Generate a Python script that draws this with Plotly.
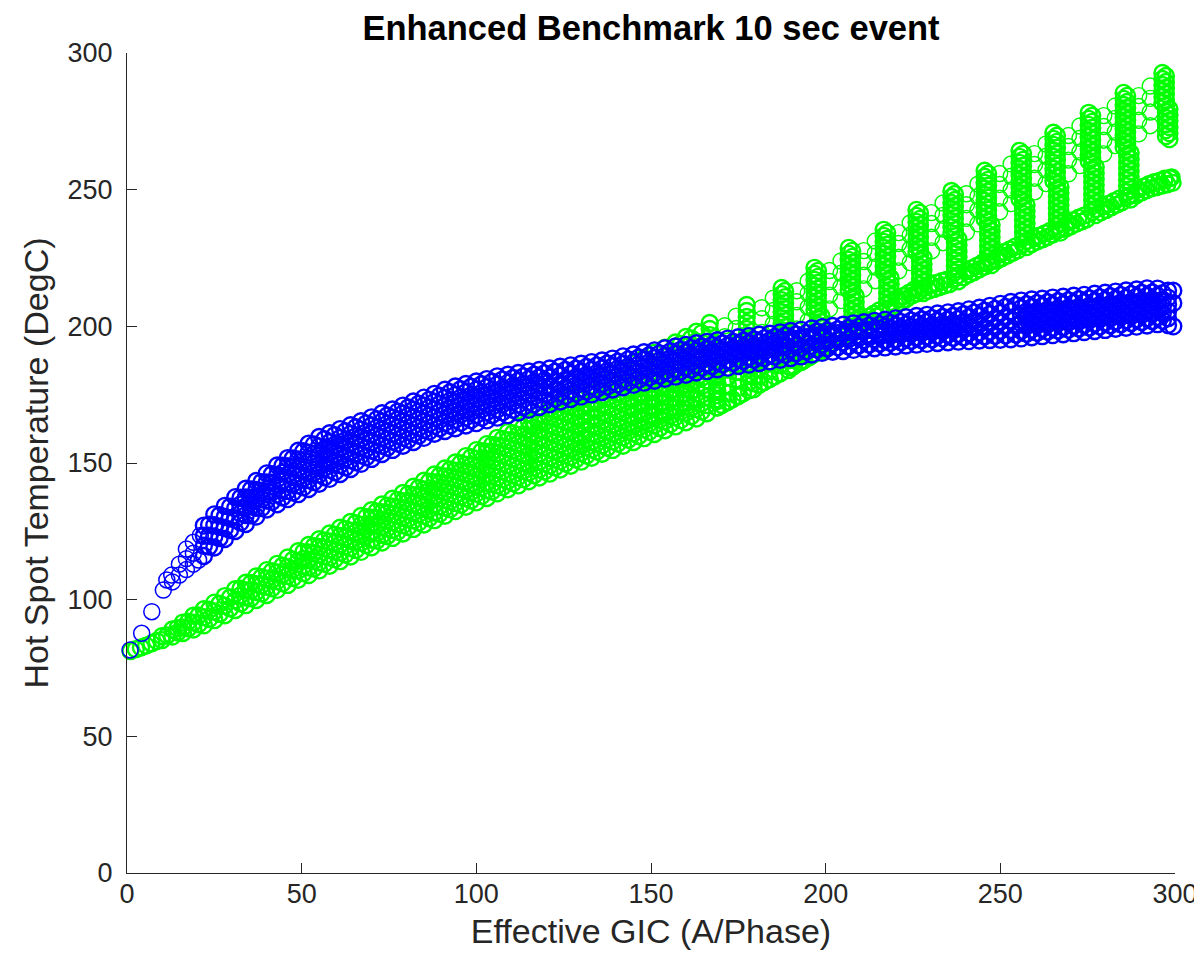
import plotly.graph_objects as go

# ---------------- data (GIC in A/phase, temperature in DegC) ----------------
# Green series: main band, columns of temperatures at given GIC values
green_band = [
    (1, [81.2]), (4, [82.5]), (7, [84.0]), (10, [85.2, 86.6]), (13, [86.5, 89.1]),
    (16, [87.8, 89.8, 91.6]), (19, [89.1, 91.6, 94.1]), (22, [90.6, 93.6, 96.5]),
    (25, [92.5, 95.7, 98.9]), (28, [94.3, 97.8, 101.3]), (31, [96.2, 99.8, 103.8]),
    (34, [98.0, 100.8, 103.5, 106.2]), (37, [99.9, 102.8, 105.7, 108.5]),
    (40, [101.7, 104.7, 107.7, 110.8]), (43, [103.6, 106.8, 110.0, 113.1]),
    (46, [105.4, 108.7, 112.0, 115.4]), (49, [107.3, 110.7, 114.2, 117.7]),
    (52, [109.0, 111.8, 114.5, 117.3, 120.0]), (55, [110.7, 113.6, 116.4, 119.3, 122.1]),
    (58, [112.4, 115.4, 118.3, 121.3, 124.2]), (61, [114.1, 117.2, 120.2, 123.3, 126.3]),
    (64, [115.8, 118.9, 122.1, 125.2, 128.4]), (67, [117.5, 120.8, 124.0, 127.3, 130.6]),
    (70, [119.2, 121.9, 124.6, 127.3, 130.0, 132.7]), (73, [120.9, 123.7, 126.4, 129.2, 132.0, 134.8]),
    (76, [122.6, 125.5, 128.3, 131.2, 134.0, 136.9]), (79, [124.2, 127.2, 130.2, 133.1, 136.0, 139.0]),
    (82, [125.9, 129.0, 132.1, 135.1, 138.2, 141.3]), (85, [127.5, 130.7, 133.9, 137.1, 140.3, 143.5]),
    (88, [129.1, 131.9, 134.7, 137.5, 140.2, 143.0, 145.8]),
    (91, [130.7, 133.6, 136.5, 139.4, 142.2, 145.1, 148.0]),
    (94, [132.4, 135.4, 138.3, 141.3, 144.3, 147.2, 150.2]),
    (97, [134.0, 137.1, 140.2, 143.3, 146.3, 149.4, 152.5]),
    (100, [135.6, 138.8, 142.0, 145.2, 148.3, 151.5, 154.7]),
    (103, [137.2, 140.0, 142.8, 145.7, 148.5, 151.3, 154.1, 156.9]),
    (106, [138.9, 141.8, 144.7, 147.6, 150.5, 153.4, 156.3, 159.2]),
    (109, [140.4, 143.4, 146.3, 149.3, 152.3, 155.3, 158.3, 161.3]),
    (112, [141.8, 144.9, 147.9, 151.0, 154.1, 157.2, 160.3, 163.5]),
    (115, [143.3, 146.5, 149.7, 152.8, 156.0, 159.2, 162.4, 165.6]),
    (118, [144.7, 147.6, 150.5, 153.4, 156.3, 159.1, 162.0, 164.9, 167.8]),
    (121, [146.1, 149.1, 152.0, 155.0, 158.0, 161.0, 163.9, 166.9, 169.9]),
    (124, [147.6, 150.7, 153.7, 156.8, 159.9, 162.9, 166.0, 169.0, 172.1]),
    (127, [149.0, 152.2, 155.3, 158.5, 161.7, 164.8, 168.0, 171.1, 174.3]),
    (130, [150.5, 153.7, 157.0, 160.2, 163.5, 166.7, 169.9, 173.2, 176.4]),
    (133, [151.9, 154.9, 157.8, 160.8, 163.8, 166.7, 169.7, 172.7, 175.6, 178.6]),
    (136, [153.4, 156.4, 159.4, 162.4, 165.4, 168.4, 171.4, 174.4, 177.5, 180.6]),
    (139, [154.8, 157.9, 161.0, 164.1, 167.2, 170.3, 173.4, 176.4, 179.5, 182.6]),
    (142, [156.3, 159.4, 162.6, 165.7, 168.8, 172.0, 175.1, 178.2, 181.4, 184.5]),
    (145, [157.7, 160.9, 164.1, 167.3, 170.5, 173.6, 176.8, 180.0, 183.2, 186.4]),
    (148, [159.1, 162.3, 165.6, 168.8, 172.1, 175.3, 178.6, 181.8, 185.1, 188.3]),
    (151, [160.6, 163.9, 167.2, 170.5, 173.8, 177.1, 180.4, 183.7, 187.0, 190.3]),
    (154, [162.0, 165.4, 168.7, 172.1, 175.4, 178.8, 182.1, 185.5, 188.8, 192.2]),
    (157, [163.4, 166.8, 170.2, 173.6, 177.0, 180.5, 183.9, 187.3, 190.7, 194.1]),
    (160, [164.9, 168.4, 171.8, 175.3, 178.8, 182.2, 185.7, 189.1, 192.6, 196.1]),
    (163, [166.3, 169.8, 173.4, 176.9, 180.4, 183.9, 187.4, 191.0, 194.5, 198.0]),
    (166, [168.2, 171.2, 174.2, 177.2, 180.2, 183.2]), (169, [170.3, 173.3, 176.3, 179.3, 182.3, 185.3]),
    (172, [172.4, 175.4, 178.4, 181.4, 184.4, 187.4]), (175, [174.5, 177.5, 180.5, 183.5, 186.5]),
    (178, [176.6, 179.6, 182.6, 185.6, 188.6]), (181, [178.7, 181.7, 184.7, 187.7, 190.7]),
    (184, [180.7, 183.7, 186.7, 189.7]), (187, [182.8, 185.8, 188.8, 191.8]),
    (190, [184.9, 187.9, 190.9]), (193, [187.0, 190.0, 193.0]), (196, [189.3, 192.3, 195.3]),
    (199, [191.6, 194.6]), (202, [193.9, 196.9]),
]

# Green series: in-between columns of the main band
green_band_mid = [
    (2.5, [81.9]), (5.5, [83.2]), (8.5, [84.9]), (11.5, [86.9]), (14.5, [88.0, 89.6]),
    (17.5, [89.5, 91.9]), (20.5, [91.0, 94.2]), (23.5, [92.9, 96.3]), (26.5, [94.8, 98.5]),
    (29.5, [96.8, 100.8]), (32.5, [98.6, 101.6, 104.0]), (35.5, [100.5, 103.4, 106.0]),
    (38.5, [102.3, 105.3, 108.2]), (41.5, [104.2, 107.3, 110.4]), (44.5, [106.0, 109.2, 112.4]),
    (47.5, [107.9, 111.1, 114.6]), (50.5, [109.7, 112.3, 114.9, 117.4]),
    (53.5, [111.4, 114.2, 117.0, 119.6]), (56.5, [113.1, 115.9, 118.8, 121.7]),
    (59.5, [114.8, 117.8, 120.8, 123.8]), (62.5, [116.5, 119.6, 122.8, 125.9]),
    (65.5, [118.2, 121.4, 124.7, 128.0]), (68.5, [119.9, 123.3, 126.8, 130.2]),
    (71.5, [121.6, 124.4, 127.1, 129.8, 132.3]), (74.5, [123.3, 126.1, 128.9, 131.7, 134.4]),
    (77.5, [124.9, 127.8, 130.7, 133.6, 136.5]), (80.5, [126.6, 129.6, 132.6, 135.7, 138.7]),
    (83.5, [128.2, 131.3, 134.5, 137.7, 140.9]), (86.5, [129.8, 133.1, 136.4, 139.8, 143.2]),
    (89.5, [131.4, 134.2, 137.1, 139.9, 142.6, 145.4]), (92.5, [133.1, 136.0, 138.9, 141.8, 144.7, 147.6]),
    (95.5, [134.7, 137.7, 140.7, 143.8, 146.8, 149.9]), (98.5, [136.3, 139.4, 142.5, 145.7, 148.9, 152.1]),
    (101.5, [137.9, 141.1, 144.3, 147.6, 150.9, 154.3]),
    (104.5, [139.6, 142.4, 145.3, 148.2, 151.1, 154.0, 156.6]),
    (107.5, [141.2, 144.1, 147.1, 150.0, 153.0, 155.9, 158.8]),
    (110.5, [142.6, 145.6, 148.6, 151.7, 154.7, 157.8, 160.9]),
    (113.5, [144.1, 147.2, 150.3, 153.5, 156.6, 159.8, 163.1]),
    (116.5, [145.5, 148.4, 151.4, 154.3, 157.2, 160.1, 163.0, 165.2]),
    (119.5, [146.9, 149.9, 152.9, 155.9, 158.9, 161.9, 164.9, 167.4]),
    (122.5, [148.4, 151.4, 154.5, 157.5, 160.6, 163.6, 166.6, 169.5]),
    (125.5, [149.8, 152.9, 156.0, 159.1, 162.2, 165.3, 168.5, 171.7]),
    (128.5, [151.3, 154.4, 157.6, 160.7, 163.9, 167.0, 170.2, 173.9]),
    (131.5, [152.7, 155.8, 158.9, 162.0, 165.1, 168.3, 171.4]),
    (134.5, [154.2, 157.3, 160.4, 163.5, 166.6, 169.7, 172.8]),
    (137.5, [155.6, 158.7, 161.8, 164.9, 168.0, 171.1, 174.2]),
    (140.5, [157.1, 160.2, 163.3, 166.4, 169.5, 172.6, 175.7]),
    (143.5, [158.5, 161.6, 164.7, 167.8, 170.9, 174.0, 177.1]),
    (146.5, [159.9, 163.0, 166.1, 169.2, 172.3, 175.4, 178.5]),
    (149.5, [161.4, 164.5, 167.6, 170.7, 173.8, 176.9, 180.0]),
    (152.5, [162.8, 165.9, 169.0, 172.1, 175.2, 178.3, 181.4]),
    (155.5, [164.2, 167.3, 170.4, 173.5, 176.6, 179.7, 182.8]),
    (158.5, [165.7, 168.8, 171.9, 175.0, 178.1, 181.2, 184.3, 193.6]),
    (161.5, [167.1, 170.2, 173.3, 176.4, 179.5, 182.6, 185.7, 195.6]),
    (164.5, [168.8, 171.9, 175.0, 178.1, 181.2, 184.3, 197.5]),
]

# Green series: the vertical streaks at high GIC (upper part, middle, lower part of each streak)
green_streaks = [
    (166.8, [201.2, 199.0, 196.8, 194.6, 192.4, 190.2, 188.0]),
    (168.8, [185.8, 183.6, 181.4, 179.2, 177.0, 174.8, 172.6, 170.4]),
    (177.4, [207.8, 205.6, 203.4, 201.2, 199.0, 196.8, 194.6, 192.4]),
    (179.4, [190.2, 188.0, 185.8, 183.6, 181.4, 179.2, 177.0]),
    (187.4, [214.0, 211.8, 209.6, 207.4, 205.2, 203.0, 200.8, 198.6]),
    (188.4, [212.9, 210.7, 208.5, 206.3, 204.1, 201.9, 199.7]),
    (189.4, [196.4, 194.2, 192.0, 189.8, 187.6, 185.4, 184.0]),
    (196.8, [221.4, 219.2, 217.0, 214.8, 212.6, 210.4, 208.2, 206.0]),
    (197.8, [220.3, 218.1, 215.9, 213.7, 211.5, 209.3, 207.1, 204.9, 202.7, 200.5]),
    (198.8, [203.8, 201.6, 199.4, 197.2, 195.0, 192.8, 190.7]),
    (206.6, [228.7, 226.5, 224.3, 222.1, 219.9, 217.7, 215.5, 213.3]),
    (207.6, [227.6, 225.4, 223.2, 221.0, 218.8, 216.6, 214.4, 212.2, 210.0, 207.8, 205.6, 203.4, 201.2]),
    (208.6, [211.1, 208.9, 206.7, 204.5, 202.3, 200.1, 198.2]),
    (216.6, [235.3, 233.1, 230.9, 228.7, 226.5, 224.3, 222.1, 219.9]),
    (217.6, [234.2, 232.0, 229.8, 227.6, 225.4, 223.2, 221.0, 218.8, 216.6, 214.4, 212.2, 210.0, 207.8]),
    (218.6, [217.7, 215.5, 213.3, 211.1, 208.9, 206.7, 205.8]),
    (226.0, [242.6, 240.4, 238.2, 236.0, 233.8, 231.6, 229.4, 227.2]),
    (227.0, [241.5, 239.3, 237.1, 234.9, 232.7, 230.5, 228.3, 226.1, 223.9, 221.7, 219.5, 217.3, 215.1, 213.0]),
    (228.0, [225.0, 222.8, 220.6, 218.4, 216.2, 214.0, 212.2]),
    (236.0, [249.5, 247.3, 245.1, 242.9, 240.7, 238.5, 236.3, 234.1]),
    (237.0, [248.4, 246.2, 244.0, 241.8, 239.6, 237.4, 235.2, 233.0, 230.8, 228.6, 226.4, 224.2, 222.0, 219.8, 217.6]),
    (238.0, [231.9, 229.7, 227.5, 225.3, 223.1, 220.9, 218.7, 216.5]),
    (245.5, [256.9, 254.7, 252.5, 250.3, 248.1, 245.9, 243.7, 241.5, 239.3]),
    (246.5, [255.8, 253.6, 251.4, 249.2, 247.0, 244.8, 242.6, 240.4, 238.2, 236.0, 233.8, 231.6, 229.4,
             227.2, 225.0, 223.2]),
    (247.5, [237.1, 234.9, 232.7, 230.5, 228.3, 226.1, 223.9, 222.4]),
    (255.5, [264.2, 262.0, 259.8, 257.6, 255.4, 253.2, 251.0, 248.8, 246.6]),
    (256.5, [263.1, 260.9, 258.7, 256.5, 254.3, 252.1, 249.9, 247.7, 245.5, 243.3, 241.1, 238.9, 236.7,
             234.5, 232.3, 230.1]),
    (257.5, [244.4, 242.2, 240.0, 237.8, 235.6, 233.4, 231.2, 229.0]),
    (265.2, [270.8, 268.6, 266.4, 264.2, 262.0, 259.8, 257.6, 255.4, 253.2]),
    (266.2, [269.7, 267.5, 265.3, 263.1, 260.9, 258.7, 256.5, 254.3, 252.1, 249.9, 247.7, 245.5, 243.3,
             241.1, 238.9, 236.7, 235.0]),
    (267.2, [251.0, 248.8, 246.6, 244.4, 242.2, 240.0, 237.8, 235.6, 234.3]),
    (275.3, [278.1, 275.9, 273.7, 271.5, 269.3, 267.1, 264.9, 262.7, 260.5]),
    (276.3, [277.0, 274.8, 272.6, 270.4, 268.2, 266.0, 263.8, 261.6, 259.4, 257.2, 255.0, 252.8, 250.6,
             248.4, 246.2, 244.0, 241.8]),
    (277.3, [258.3, 256.1, 253.9, 251.7, 249.5, 247.3, 245.1, 242.9, 240.7]),
    (285.3, [285.4, 283.2, 281.0, 278.8, 276.6, 274.4, 272.2, 270.0, 267.8, 265.6]),
    (286.3, [284.3, 282.1, 279.9, 277.7, 275.5, 273.3, 271.1, 268.9, 266.7, 264.5, 262.3, 260.1, 257.9,
             255.7, 253.5, 251.3, 249.1, 247.2]),
    (287.3, [263.4, 261.2, 259.0, 256.8, 254.6, 252.4, 250.2, 248.0, 246.4]),
    (296.4, [292.7, 290.5, 288.3, 286.1, 283.9, 281.7]),
    (297.4, [291.6, 289.4, 287.2, 285.0, 282.8, 280.6, 278.4, 276.2, 274.0, 271.8, 269.6]),
    (298.4, [279.5, 277.3, 275.1, 272.9, 270.7, 268.5]),
]

# Green series: sparse circles between the tops of neighbouring streaks
green_caps = [
    (171.1, [200.2, 196.2, 191.2, 186.2]), (174.4, [203.7, 199.2, 194.2, 189.2]),
    (181.7, [206.8, 202.8, 197.8, 192.8]), (185.0, [210.3, 205.8, 200.8, 195.8]),
    (191.7, [213.0, 209.0, 204.0, 199.0]), (195.0, [216.5, 212.0, 207.0, 202.0]),
    (201.1, [220.4, 216.4, 211.4, 206.4]), (204.4, [223.9, 219.4, 214.4, 209.4]),
    (210.9, [227.7, 223.7, 218.7, 213.7]), (214.2, [231.2, 226.7, 221.7, 216.7]),
    (220.9, [234.3, 230.3, 225.3, 220.3]), (224.2, [237.8, 233.3, 228.3, 223.3]),
    (230.3, [241.6, 237.6, 232.6, 227.6]), (233.6, [245.1, 240.6, 235.6, 230.6]),
    (240.3, [248.5, 244.5, 239.5, 234.5]), (243.6, [252.0, 247.5, 242.5, 237.5]),
    (249.8, [255.9, 251.9, 246.9, 241.9]), (253.1, [259.4, 254.9, 249.9, 244.9]),
    (259.8, [263.2, 259.2, 254.2, 249.2]), (263.1, [266.7, 262.2, 257.2, 252.2]),
    (269.5, [269.8, 265.8, 260.8, 255.8]), (272.8, [273.3, 268.8, 263.8, 258.8]),
    (279.6, [277.1, 273.1, 268.1, 263.1]), (282.9, [280.6, 276.1, 271.1, 266.1]),
    (289.6, [284.4, 280.4, 275.4, 270.4]), (292.9, [287.9, 283.4, 278.4, 273.4]),
]

# Green series: the hooks along the lower edge at high GIC (two rows)
green_hook_x = [170.3, 171.8, 173.3, 174.8, 176.3, 180.9, 182.4, 183.9, 185.4, 186.9,
                190.9, 192.4, 193.9, 195.4, 196.9, 200.3, 201.8, 203.3, 204.8, 206.3,
                210.1, 211.6, 213.1, 214.6, 216.1, 220.1, 221.6, 223.1, 224.6, 226.1,
                229.5, 231.0, 232.5, 234.0, 235.5, 239.5, 241.0, 242.5, 244.0, 245.5,
                249.0, 250.5, 252.0, 253.5, 255.0, 259.0, 260.5, 262.0, 263.5, 265.0,
                268.7, 270.2, 271.7, 273.2, 274.7, 278.8, 280.3, 281.8, 283.3, 284.8,
                288.8, 290.3, 291.8, 293.3, 294.8, 296.3, 297.8, 299.3, 297.0, 299.0,
                210.8, 212.3, 213.8, 215.3, 220.8, 222.3, 223.8, 225.3,
                230.2, 231.7, 233.2, 234.7, 240.2, 241.7, 243.2, 244.7,
                249.7, 251.2, 252.7, 254.2, 259.7, 261.2, 262.7, 264.2,
                269.4, 270.9, 272.4, 273.9, 279.5, 281.0, 282.5, 284.0,
                289.5, 291.0, 292.5, 294.0, 295.5, 297.0, 298.5]
green_hook_y = [171.2, 172.3, 173.3, 174.4, 175.4, 178.6, 179.6, 180.7, 181.7, 182.8,
                185.5, 186.7, 187.7, 188.8, 190.0, 192.6, 193.8, 194.9, 196.1, 197.2,
                200.1, 201.3, 202.4, 203.6, 204.7, 207.7, 208.9, 210.0, 211.2, 212.0,
                213.0, 213.7, 214.3, 214.9, 215.5, 218.0, 219.0, 219.9, 220.9, 221.8,
                224.0, 225.0, 225.9, 226.9, 227.8, 230.1, 231.0, 231.8, 232.7, 233.6,
                235.7, 236.6, 237.5, 238.3, 239.2, 241.7, 242.6, 243.6, 244.5, 245.4,
                247.9, 248.9, 249.8, 250.5, 251.0, 251.5, 252.0, 252.5, 254.0, 254.5,
                202.3, 203.5, 204.6, 205.8, 209.9, 211.1, 212.2, 213.4,
                215.2, 215.9, 216.5, 217.1, 220.2, 221.2, 222.1, 223.1,
                226.2, 227.2, 228.1, 229.1, 232.3, 233.2, 234.0, 234.9,
                237.9, 238.8, 239.7, 240.5, 243.9, 244.8, 245.8, 246.7,
                250.1, 251.1, 252.0, 252.7, 253.2, 253.7, 254.2]

# Blue series: sparse start points
blue_start_x = [0.9, 4.2, 7.1, 10.4, 11.4, 12.8, 13.0, 15.0, 15.0, 17.0, 17.0, 17.0, 19.0, 19.0, 19.0, 20.5, 21.0]
blue_start_y = [81.6, 87.7, 95.6, 103.5, 107.2, 109.0, 106.5, 109.0, 113.0, 111.0, 115.0, 118.5,
                113.0, 117.0, 121.0, 114.5, 123.5]

# Blue series: main band columns
blue_band = [
    (22, [116.0, 119.7, 123.4, 127.1]), (25, [119.1, 123.1, 127.2, 131.2]),
    (28, [122.2, 126.2, 130.3, 134.3]), (31, [125.1, 129.2, 133.4, 137.5]),
    (34, [127.7, 131.0, 134.2, 137.4, 140.6]), (37, [130.4, 133.6, 136.9, 140.1, 143.4]),
    (40, [133.0, 136.3, 139.6, 142.9, 146.2]), (43, [134.9, 138.5, 142.0, 145.6, 149.1]),
    (46, [136.8, 139.8, 142.8, 145.8, 148.8, 151.8]), (49, [138.6, 141.8, 145.0, 148.1, 151.3, 154.5]),
    (52, [140.5, 143.8, 147.1, 150.5, 153.8, 157.1]), (55, [142.4, 145.8, 149.2, 152.7, 156.1, 159.5]),
    (58, [144.2, 147.5, 150.9, 154.2, 157.6, 160.9]), (61, [146.0, 149.3, 152.6, 155.8, 159.1, 162.4]),
    (64, [147.8, 151.0, 154.2, 157.4, 160.6, 163.8]), (67, [149.7, 152.8, 155.9, 159.1, 162.2, 165.3]),
    (70, [151.5, 154.5, 157.6, 160.6, 163.7, 166.7]), (73, [153.3, 156.3, 159.3, 162.2, 165.2, 168.2]),
    (76, [154.8, 157.8, 160.7, 163.7, 166.6, 169.6]), (79, [156.3, 159.2, 162.2, 165.1, 168.1, 171.0]),
    (82, [157.7, 160.7, 163.6, 166.6, 169.5, 172.5]), (85, [159.2, 162.1, 165.1, 168.0, 171.0, 173.9]),
    (88, [160.7, 163.6, 166.5, 169.5, 172.4, 175.3]), (91, [161.7, 164.7, 167.7, 170.8, 173.8, 176.8]),
    (94, [162.7, 165.8, 168.8, 171.9, 174.9, 178.0]), (97, [163.7, 166.7, 169.8, 172.8, 175.9, 178.9]),
    (100, [164.6, 167.6, 170.7, 173.7, 176.8, 179.8]), (103, [165.6, 168.6, 171.6, 174.7, 177.7, 180.7]),
    (106, [166.6, 169.6, 172.6, 175.7, 178.7, 181.7]), (109, [167.5, 170.5, 173.4, 176.4, 179.3, 182.3]),
    (112, [168.5, 171.4, 174.3, 177.1, 180.0, 182.9]), (115, [169.5, 172.3, 175.1, 177.9, 180.7, 183.5]),
    (118, [170.5, 173.2, 175.9, 178.6, 181.3, 184.0]), (121, [171.5, 174.8, 178.1, 181.3, 184.6]),
    (124, [172.5, 175.7, 178.9, 182.0, 185.2]), (127, [173.4, 176.5, 179.6, 182.6, 185.7]),
    (130, [174.3, 177.3, 180.3, 183.3, 186.3]), (133, [175.1, 178.1, 181.0, 184.0, 186.9]),
    (136, [176.0, 178.9, 181.8, 184.6, 187.5]), (139, [176.9, 179.7, 182.6, 185.4, 188.2]),
    (142, [177.7, 180.5, 183.4, 186.2, 189.0]), (145, [178.6, 181.4, 184.2, 186.9, 189.7]),
    (148, [179.4, 182.2, 185.0, 187.7, 190.5]), (151, [180.1, 182.9, 185.7, 188.4, 191.2]),
    (154, [180.8, 183.6, 186.4, 189.2, 192.0]), (157, [181.6, 184.4, 187.1, 189.9, 192.6]),
    (160, [182.3, 185.0, 187.8, 190.5, 193.2]), (163, [183.1, 185.8, 188.5, 191.1, 193.8]),
    (166, [183.7, 186.4, 189.0, 191.7, 194.3]), (169, [184.3, 187.0, 189.6, 192.3, 194.9]),
    (172, [184.9, 187.6, 190.2, 192.9, 195.5]), (175, [185.5, 188.1, 190.8, 193.4, 196.0]),
    (178, [186.0, 188.6, 191.2, 193.8, 196.4]), (181, [186.6, 189.2, 191.8, 194.3, 196.9]),
    (184, [187.2, 189.7, 192.3, 194.8, 197.3]), (187, [187.8, 190.3, 192.8, 195.3, 197.8]),
    (190, [188.4, 191.7, 195.0, 198.3]), (193, [189.0, 192.2, 195.5, 198.7]),
    (196, [189.7, 192.9, 196.0, 199.2]), (199, [190.3, 193.4, 196.6, 199.7]),
    (202, [190.7, 193.8, 197.0, 200.1]), (205, [191.0, 194.2, 197.4, 200.6]),
    (208, [191.4, 194.6, 197.9, 201.1]), (211, [191.7, 195.0, 198.2, 201.5]),
    (214, [192.0, 195.3, 198.7, 202.0]), (217, [192.3, 194.8, 197.4, 199.9, 202.4]),
    (220, [192.6, 195.2, 197.8, 200.3, 202.9]), (223, [193.0, 195.6, 198.2, 200.7, 203.3]),
    (226, [193.3, 195.9, 198.6, 201.2, 203.8]), (229, [193.6, 196.3, 198.9, 201.6, 204.2]),
    (232, [193.9, 196.6, 199.3, 202.0, 204.7]), (235, [194.2, 196.9, 199.7, 202.4, 205.1]),
    (238, [194.4, 197.2, 200.0, 202.7, 205.5]), (241, [194.6, 197.5, 200.4, 203.3, 206.2]),
    (244, [194.8, 197.8, 200.8, 203.8, 206.8]), (247, [195.0, 198.1, 201.3, 204.4, 207.5]),
    (250, [195.1, 198.4, 201.7, 204.9, 208.2]), (253, [195.3, 198.7, 202.1, 205.5, 208.9]),
    (256, [195.6, 198.4, 201.1, 203.9, 206.6, 209.4]), (259, [196.0, 198.8, 201.5, 204.3, 207.0, 209.8]),
    (262, [196.4, 199.1, 201.9, 204.6, 207.4, 210.1]), (265, [196.8, 199.5, 202.3, 205.0, 207.8, 210.5]),
    (268, [197.1, 199.8, 202.6, 205.3, 208.1, 210.8]), (271, [197.5, 200.2, 203.0, 205.7, 208.5, 211.2]),
    (274, [197.9, 200.6, 203.3, 206.0, 208.8, 211.5]), (277, [198.3, 201.0, 203.7, 206.5, 209.2, 211.9]),
    (280, [198.7, 201.4, 204.1, 206.9, 209.6, 212.3]), (283, [199.1, 201.8, 204.5, 207.3, 210.0, 212.7]),
    (286, [199.5, 202.2, 204.9, 207.7, 210.4, 213.1]), (289, [199.9, 202.6, 205.3, 208.1, 210.8, 213.5]),
    (292, [200.3, 203.0, 205.7, 208.5, 211.2, 213.9]), (295, [200.8, 203.4, 206.0, 208.6, 211.2, 213.8]),
    (298, [200.5, 203.0, 205.5, 208.0, 210.5, 213.0]), (299.5, [200.0, 208.5, 213.0]),
]

# Blue series: in-between columns of the band
blue_band_mid = [
    (23.5, [119.4, 123.4, 127.4]), (26.5, [122.5, 126.7, 130.9]), (29.5, [125.5, 129.8, 134.0]),
    (32.5, [128.2, 131.5, 134.8, 137.3]), (35.5, [130.9, 134.1, 137.3, 140.3]),
    (38.5, [133.5, 136.7, 139.9, 143.0]), (41.5, [135.8, 139.3, 142.8, 145.9]),
    (44.5, [137.4, 140.4, 143.4, 146.4, 149.0]), (47.5, [139.2, 142.4, 145.5, 148.6, 151.7]),
    (50.5, [141.1, 144.4, 147.7, 151.0, 154.3]), (53.5, [143.0, 146.4, 149.8, 153.3, 156.8]),
    (56.5, [144.8, 148.2, 151.6, 155.1, 158.7]), (59.5, [146.6, 150.0, 153.3, 156.7, 160.2]),
    (62.5, [148.4, 151.7, 155.0, 158.3, 161.6]), (65.5, [150.3, 153.5, 156.6, 159.8, 163.1]),
    (68.5, [152.1, 155.2, 158.2, 161.3, 164.5]), (71.5, [153.9, 156.9, 159.9, 162.9, 166.0]),
    (74.5, [155.6, 158.5, 161.4, 164.4, 167.4]), (77.5, [157.1, 160.0, 162.9, 165.9, 168.8]),
    (80.5, [158.5, 161.4, 164.4, 167.3, 170.3]), (83.5, [160.0, 162.9, 165.8, 168.8, 171.7]),
    (86.5, [161.5, 164.4, 167.3, 170.2, 173.1]), (89.5, [162.7, 165.7, 168.6, 171.6, 174.6]),
    (92.5, [163.7, 166.7, 169.7, 172.8, 175.9]), (95.5, [164.7, 167.7, 170.8, 173.9, 177.0]),
    (98.5, [165.7, 168.7, 171.7, 174.8, 177.9]), (101.5, [166.6, 169.6, 172.6, 175.7, 178.8]),
    (104.5, [167.6, 170.6, 173.6, 176.6, 179.7]), (107.5, [168.6, 171.5, 174.4, 177.4, 180.5]),
    (110.5, [169.5, 172.4, 175.3, 178.2, 181.1]), (113.5, [170.5, 173.3, 176.1, 178.9, 181.7]),
    (116.5, [171.5, 174.2, 176.9, 179.6, 182.3]), (119.5, [172.5, 175.1, 177.7, 180.3, 182.8]),
    (122.5, [173.5, 176.6, 179.7, 183.4]), (125.5, [174.5, 177.5, 180.5, 184.0]),
    (128.5, [175.4, 178.4, 181.4, 184.5]), (131.5, [176.2, 179.2, 182.2, 185.1]),
    (134.5, [177.1, 180.0, 182.9, 185.7]), (137.5, [178.0, 180.9, 183.7, 186.4]),
    (140.5, [178.8, 181.7, 184.5, 187.1]), (143.5, [179.7, 182.5, 185.3, 187.9]),
    (146.5, [180.5, 183.3, 186.1, 188.6]), (149.5, [181.3, 184.1, 186.9, 189.4]),
    (152.5, [182.0, 184.8, 187.6, 190.1]), (155.5, [182.7, 185.5, 188.3, 190.8]),
    (158.5, [183.5, 186.2, 188.9, 191.4]), (161.5, [184.2, 186.9, 189.6, 192.0]),
    (164.5, [184.9, 187.6, 190.3, 192.6]), (167.5, [185.5, 188.2, 190.8, 193.1]),
    (170.5, [186.1, 188.8, 191.4, 193.7]), (173.5, [186.7, 189.4, 192.0, 194.3]),
    (176.5, [187.3, 189.9, 192.5, 194.7]), (179.5, [187.8, 190.4, 193.0, 195.2]),
    (182.5, [188.4, 190.9, 193.5, 195.6]), (185.5, [189.0, 191.5, 194.0, 196.1]),
    (188.5, [189.6, 192.3, 194.9, 196.6]), (191.5, [190.2, 192.8, 195.4, 197.0]),
    (194.5, [190.9, 193.5, 196.0, 197.5]), (197.5, [191.5, 194.1, 196.6, 198.0]),
    (200.5, [192.0, 194.5, 197.0, 198.4]), (203.5, [192.4, 195.0, 197.5, 198.9]),
    (206.5, [192.7, 195.3, 197.9, 199.4]), (209.5, [193.1, 195.7, 198.3, 199.8]),
    (212.5, [193.4, 196.0, 198.7, 200.3]), (215.5, [193.7, 196.3, 199.0, 200.7]),
    (218.5, [194.0, 196.6, 199.2, 201.2]), (221.5, [194.3, 196.9, 199.5, 201.6]),
    (224.5, [194.7, 197.3, 199.9, 202.1]), (227.5, [195.0, 197.6, 200.2, 202.5]),
    (230.5, [195.3, 197.9, 200.5, 203.0]), (233.5, [195.6, 198.2, 200.9, 203.4]),
    (236.5, [195.8, 198.5, 201.2, 203.8]), (239.5, [196.0, 198.8, 201.6, 204.4]),
    (242.5, [196.2, 199.1, 202.0, 205.0]), (245.5, [196.4, 199.4, 202.5, 205.7]),
    (248.5, [196.6, 199.7, 202.9, 206.4]), (251.5, [196.7, 200.0, 203.3, 207.1]),
    (254.5, [197.0, 200.2, 203.6, 207.7]), (257.5, [197.3, 200.0, 202.7, 205.4, 208.1]),
    (260.5, [197.7, 200.3, 203.0, 205.7, 208.5]), (263.5, [198.1, 200.7, 203.4, 206.1, 208.8]),
    (266.5, [198.5, 201.1, 203.8, 206.5, 209.2]), (269.5, [198.8, 201.4, 204.1, 206.8, 209.5]),
    (272.5, [199.2, 201.8, 204.5, 207.2, 209.9]), (275.5, [199.6, 202.2, 204.8, 207.5, 210.2]),
    (278.5, [200.0, 202.6, 205.2, 207.9, 210.6]), (281.5, [200.4, 203.0, 205.6, 208.3, 211.0]),
    (284.5, [200.8, 203.4, 206.0, 208.7, 211.4]), (287.5, [201.2, 203.8, 206.4, 209.1, 211.8]),
    (290.5, [201.6, 204.2, 206.8, 209.5, 212.2]), (293.5, [202.0, 204.6, 207.2, 209.8, 212.4]),
    (296.5, [202.1, 204.7, 207.2, 209.7, 212.1]),
]

x_ticks = [0, 50, 100, 150, 200, 250, 300]
y_ticks = [0, 50, 100, 150, 200, 250, 300]


def columns_to_points(cols):
    xs, ys = [], []
    for x, temps in cols:
        for t in temps:
            xs.append(x)
            ys.append(t)
    return xs, ys


# dense parts of the green series
green_dense_x, green_dense_y = [], []
for part in (green_band, green_band_mid, green_streaks):
    px, py = columns_to_points(part)
    green_dense_x += px
    green_dense_y += py
green_dense_x += green_hook_x
green_dense_y += green_hook_y
# sparse parts of the green series
green_sparse_x, green_sparse_y = columns_to_points(green_caps)

blue_dense_x, blue_dense_y = [], []
for part in (blue_band, blue_band_mid):
    px, py = columns_to_points(part)
    blue_dense_x += px
    blue_dense_y += py

FONT = "Liberation Sans, Arial, Helvetica, sans-serif"
AXC = "#262626"
GREEN = "#00FF00"
BLUE = "#0000FF"


def ring_trace(xs, ys, color, lw):
    return go.Scatter(
        x=xs, y=ys, mode="markers", cliponaxis=False, hoverinfo="skip",
        marker=dict(symbol="circle-open", size=16, color=color, line=dict(width=lw, color=color)),
    )


fig = go.Figure()
fig.add_trace(ring_trace(green_sparse_x, green_sparse_y, GREEN, 1.4))
fig.add_trace(ring_trace(green_dense_x, green_dense_y, GREEN, 2.4))
fig.add_trace(ring_trace(blue_start_x, blue_start_y, BLUE, 1.5))
fig.add_trace(ring_trace(blue_dense_x, blue_dense_y, BLUE, 2.4))

axis_common = dict(
    range=[0, 300], showgrid=False, zeroline=False, showline=True, linecolor=AXC, linewidth=1,
    ticks="inside", ticklen=10, tickwidth=1, tickcolor=AXC, mirror=False, automargin=False,
    ticklabeloverflow="allow",
    tickfont=dict(family=FONT, size=27, color=AXC),
)

fig.update_layout(
    width=1194, height=955, showlegend=False,
    margin=dict(l=119, r=27, t=45, b=90, autoexpand=False),
    paper_bgcolor="white", plot_bgcolor="white",
    title=dict(text="<b>Enhanced Benchmark 10 sec event</b>", x=0.5, xanchor="center", xref="paper",
               y=1 - 20 / 955, yanchor="middle", yref="container",
               font=dict(family=FONT, size=34.5, color="black")),
    xaxis=dict(**axis_common, tickvals=x_ticks, ticklabelstandoff=-3,
               title=dict(text="Effective GIC (A/Phase)", font=dict(family=FONT, size=34, color=AXC), standoff=10)),
    yaxis=dict(**axis_common, tickvals=y_ticks, ticklabelstandoff=8,
               title=dict(text="Hot Spot Temperature (DegC)", font=dict(family=FONT, size=34, color=AXC), standoff=8)),
)

fig.write_html("out.html")
